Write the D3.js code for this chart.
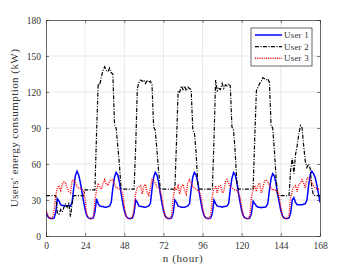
<!DOCTYPE html>
<html><head><meta charset="utf-8">
<script src="https://cdn.jsdelivr.net/npm/d3@7"></script>
<style>body{margin:0;background:#fff}svg{display:block}text{font-family:"Liberation Serif","DejaVu Serif",serif;fill:#333}</style>
</head><body>
<svg id="c" width="354" height="266"></svg>
<script>
const xTicks = [0,24,48,72,96,120,144,168];
const yTicks = [0,30,60,90,120,150,180];
const seriesNames = ["User 1","User 2","User 3"];

const user1 = [
20,16.5,15,14.5,14.5,15,20,31,29,26,25.5,25.5,25,25,25.5,25,28,40,50,54,51,45,37,29,
22,17,15,14.5,14.5,15,20,31,27,25,24.5,24.5,24,24,24.5,25,28,40,49,53,51,45,36,28,
21,17,15,14.5,14.5,15,19,30,28,25,24.5,24.5,24,24,24.5,25,27,39,49,53,51,45,36,28,
21,17,15,14.5,14.5,15,19,30,28,25,24.5,24,24,24,24.5,25,27,39,49,53,51,45,36,28,
21,17,15,14.5,14.5,15,19,30,27,25,24.5,24.5,24,24.5,24.5,25,27,39,48,53,51,45,36,28,
21,17,15,14.5,14.5,15,19,29,27,25,24,24,23.5,24,24,24.5,27,38,48,52,50,44,35,28,
21,17,15,14.5,14.5,15,19,30,32,28,26,26,26,26,26.5,27,30,42,51,54,52,49,43,36,28
];
const user2 = [
33.7,33.7,33.7,33.7,33.7,33.7,33.7,19,18,22,20,24,27,24,27,16,27,33.7,33.7,33.7,33.7,33.7,33.7,33.7,
38.5,38.5,38.5,38.5,38.5,38.5,38.5,86,127,126,133,138,141,138,137,140,136,135,93,90,75,60,40,39,
39,39,39,39,39,39,39,75,123,128,130,129,130,127,130,128,129,126,91,88,72,55,40,39,
39,39,39,39,39,39,39,39,78,121,120,125,122,125,121,124,123,122,89,86,70,45,39,39,
39,39,39,39,39,39,39,80,130,121,123,122,127,123,126,125,127,125,91,88,70,45,39,39,
39,39,39,39,39,39,39,39,82,121,124,127,129,132,131,130,131,128,92,90,72,50,34,33.7,
33.7,33.7,33.7,33.7,33.7,33.7,55,65,52,68,75,85,92,90,75,62,57,60,56,40,34,33.7,33.7,33.7,33.7
];
const user3 = [
22,18,15,14.5,15,22,34,40,42,38,43,45,44,40,37,36,46,47,44,41,40,40,39,38,
30,18,15,14.5,14.5,16,30,38,44,41,39,44,47,43,42,46,47,47,43,40,40,39,38,35,
25,17,15,14.5,14.5,16,24,36,40,41,42,35,42,43,36,34,40,47,46,44,41,40,38,33,
24,16,15,14.5,14.5,17,32,40,38,42,35,41,43,38,35,45,47,44,41,40,39,38,37,33,
24,17,15,14.5,14.5,18,33,40,41,36,42,42,36,37,45,47,44,41,40,39,38,38,36,32,
24,16,15,14.5,14.5,17,33,39,42,37,43,44,36,40,46,47,45,42,40,38,39,38,37,33,
24,16,15,14.5,14.5,17,32,38,41,42,37,43,44,47,44,40,48,49,47,44,42,40,39,39,39
];

const L=46,R=320,T=20,B=236;
const svg=d3.select("#c");
const x=d3.scaleLinear().domain([0,168]).range([L,R]);
const y=d3.scaleLinear().domain([0,180]).range([B,T]);

// grid
const g=svg.append("g");
g.selectAll(".gx").data(xTicks.slice(1,-1)).join("line")
 .attr("x1",d=>x(d)).attr("x2",d=>x(d)).attr("y1",T).attr("y2",B)
 .attr("stroke","#e3e3e3").attr("stroke-width",0.8);
g.selectAll(".gy").data(yTicks.slice(1,-1)).join("line")
 .attr("y1",d=>y(d)).attr("y2",d=>y(d)).attr("x1",L).attr("x2",R)
 .attr("stroke","#e3e3e3").attr("stroke-width",0.8);

const series=[
 {name:seriesNames[0],data:user1,color:"#0000ff",dash:null,w:1.5},
 {name:seriesNames[1],data:user2,color:"#000000",dash:"4,1.5,1,1.5",w:1.2},
 {name:seriesNames[2],data:user3,color:"#ff0000",dash:"1,1.2",w:1.4}
];
const line=d3.line().x((d,i)=>x(i)).y(d=>y(d));
svg.append("clipPath").attr("id","cp").append("rect").attr("x",L).attr("y",T).attr("width",R-L).attr("height",B-T);
series.forEach(s=>{
 svg.append("path").attr("d",line(s.data)).attr("fill","none")
  .attr("stroke",s.color).attr("stroke-width",s.w)
  .attr("stroke-dasharray",s.dash).attr("clip-path","url(#cp)");
});

// axes
const ax=svg.append("g").attr("transform",`translate(0,${B})`).call(d3.axisBottom(x).tickValues(xTicks).tickSizeInner(-3).tickSizeOuter(0).tickPadding(6));
const axT=svg.append("g").attr("transform",`translate(0,${T})`).call(d3.axisTop(x).tickValues(xTicks).tickSizeInner(-3).tickSizeOuter(0).tickFormat(""));
const ay=svg.append("g").attr("transform",`translate(${L},0)`).call(d3.axisLeft(y).tickValues(yTicks).tickSizeInner(-3).tickSizeOuter(0).tickPadding(5));
const ayR=svg.append("g").attr("transform",`translate(${R},0)`).call(d3.axisRight(y).tickValues(yTicks).tickSizeInner(-3).tickSizeOuter(0).tickFormat(""));
[ax,axT,ay,ayR].forEach(a=>{
 a.attr("font-family",null);
 a.select(".domain").attr("stroke","#262626").attr("stroke-width",0.7);
 a.selectAll(".tick line").attr("stroke","#262626").attr("stroke-width",0.6);
 a.selectAll("text").style("font-family",'"Liberation Serif",serif').style("font-size","9.5px").attr("fill","#333");
});

svg.append("text").attr("x",(L+R)/2).attr("y",262).attr("text-anchor","middle").style("font-size","11px").style("letter-spacing","0.6px").text("n (hour)");
svg.append("text").attr("transform",`translate(18,${(T+B)/2}) rotate(-90)`).attr("text-anchor","middle").style("font-size","11px").style("letter-spacing","0.45px").text("Users' energy consumption (kW)");

// legend
const lg=svg.append("g");
lg.append("rect").attr("x",251).attr("y",28).attr("width",61).attr("height",38).attr("fill","#fff").attr("stroke","#262626").attr("stroke-width",0.7);
series.forEach((s,i)=>{
 const yy=35+i*11.6;
 lg.append("line").attr("x1",255).attr("x2",282).attr("y1",yy).attr("y2",yy)
  .attr("stroke",s.color).attr("stroke-width",s.w).attr("stroke-dasharray",s.dash);
 lg.append("text").attr("x",284).attr("y",yy+3).style("font-size","9px").style("letter-spacing","0.2px").text(s.name);
});
</script>
</body></html>
